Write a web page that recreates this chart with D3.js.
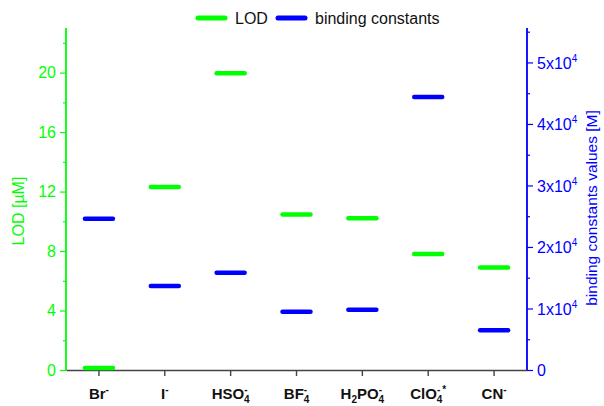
<!DOCTYPE html>
<html lang="en">
<head>
<meta charset="UTF-8">
<title>LOD and binding constants</title>
<script src="https://d3js.org/d3.v7.min.js"></script>
<style>
  body { margin: 0; background: #fff; }
  text { font-family: "Liberation Sans", Arial, sans-serif; }
</style>
</head>
<body>
<div id="chart"></div>
<script>
    // data
    var anions = ["Br", "I", "HSO4", "BF4", "H2PO4", "ClO4", "CN"];
    var lod = [0.13, 12.3, 19.95, 10.45, 10.2, 7.8, 6.9];            // µM
    var binding = [24600, 13650, 15800, 9450, 9800, 44400, 6450];     // M
    var lodTicks = [0, 4, 8, 12, 16, 20];
    var bindTicks = [0, 10000, 20000, 30000, 40000, 50000];

    // label pieces: [text, shift] shift: 0 normal, 1 super, -1 sub, 2 stacked super+sub
    var labelParts = [
        [["Br", 0], ["-", 1]],
        [["I", 0], ["-", 1]],
        [["HSO", 0], ["-4", 2]],
        [["BF", 0], ["-4", 2]],
        [["H", 0], ["2", -1], ["PO", 0], ["-4", 2]],
        [["ClO", 0], ["-4", 2], ["*", 1]],
        [["CN", 0], ["-", 1]]
    ];

    var W = 604, H = 406;
    var margin = {left: 66, right: 77, top: 28, bottom: 36};
    var green = "#00ff00", blue = "#0000ff";

    var svg = d3.select("#chart").append("svg")
        .attr("width", W).attr("height", H);

    var x = d3.scaleBand().domain(anions)
        .range([margin.left, W - margin.right]);
    var yL = d3.scaleLinear().domain([0, 23]).range([H - margin.bottom, margin.top]);
    var yR = d3.scaleLinear().domain([0, 55600]).range([H - margin.bottom, margin.top]);

    // left axis
    var left = svg.append("g").attr("transform", "translate(" + margin.left + ",0)");
    left.call(d3.axisLeft(yL).tickValues(d3.range(2, 23, 4)).tickSize(3).tickFormat(""));
    left.call(g => g.append("g").call(d3.axisLeft(yL).tickValues(lodTicks).tickSize(6).tickPadding(4)));
    left.selectAll("path").attr("stroke", green).attr("stroke-width", 1.4);
    left.selectAll("line").attr("stroke", green).attr("stroke-width", 1.2);
    left.selectAll("text").attr("fill", green).style("font-size", "16px")
        .style("font-family", "'Liberation Sans', Arial, sans-serif");
    left.selectAll(".domain").attr("d", "M0," + yL.range()[0] + "V" + yL.range()[1]);

    svg.append("text")
        .attr("transform", "translate(24,211) rotate(-90)")
        .attr("text-anchor", "middle")
        .attr("fill", green)
        .style("font-size", "16px")
        .text("LOD [\u00b5M]");

    // right axis
    var rx = W - margin.right;
    var right = svg.append("g").attr("transform", "translate(" + rx + ",0)");
    right.call(d3.axisRight(yR).tickValues(d3.range(5000, 56000, 10000)).tickSize(3).tickFormat(""));
    var rMajor = right.append("g").call(d3.axisRight(yR).tickValues(bindTicks).tickSize(6).tickPadding(4)
        .tickFormat(""));
    right.selectAll("path").attr("stroke", blue).attr("stroke-width", 1.4);
    right.selectAll("line").attr("stroke", blue).attr("stroke-width", 1.2);
    right.selectAll(".domain").attr("d", "M0," + yR.range()[0] + "V" + yR.range()[1]);

    rMajor.selectAll(".tick").each(function(d) {
        var t = d3.select(this).append("text")
            .attr("x", 10).attr("dy", "0.35em")
            .attr("fill", blue)
            .attr("text-anchor", "start")
            .style("font-size", "16px")
            .style("font-family", "'Liberation Sans', Arial, sans-serif");
        if (d === 0) { t.text("0"); return; }
        t.append("tspan").text((d / 10000) + "x10");
        t.append("tspan").attr("dy", -7).style("font-size", "10px").text("4");
    });

    svg.append("text")
        .attr("transform", "translate(597,208) rotate(-90)")
        .attr("text-anchor", "middle")
        .attr("fill", blue)
        .style("font-size", "15.5px")
        .text("binding constants values [M]");

    // bottom axis
    var bottom = svg.append("g").attr("transform", "translate(0," + (H - margin.bottom) + ")");
    bottom.call(d3.axisBottom(x).tickSize(6).tickSizeOuter(0).tickFormat(""));
    bottom.selectAll("path, line").attr("stroke", "#444").attr("stroke-width", 1.4);

    // category labels with sub/superscripts
    anions.forEach(function(a, i) {
        var t = svg.append("text")
            .attr("y", H - margin.bottom + 29)
            .attr("text-anchor", "middle")
            .attr("x", x(a) + x.bandwidth() / 2)
            .attr("fill", "#111")
            .style("font-size", "15px")
            .style("font-weight", "bold");
        var dyAcc = 0;
        labelParts[i].forEach(function(p) {
            var s = p[1];
            if (s === 0) {
                t.append("tspan").attr("dy", -dyAcc).text(p[0]);
                dyAcc = 0;
            } else if (s === 1) {
                t.append("tspan").attr("dy", -6 - dyAcc).style("font-size", "10px").text(p[0]);
                dyAcc = -6;
            } else if (s === -1) {
                t.append("tspan").attr("dy", 4 - dyAcc).style("font-size", "10px").text(p[0]);
                dyAcc = 4;
            } else {
                t.append("tspan").attr("dy", -6 - dyAcc).style("font-size", "10px").text(p[0][0]);
                t.append("tspan").attr("dx", -3.5).attr("dy", 10).style("font-size", "10px").text(p[0][1]);
                dyAcc = 4;
            }
        });
    });

    // markers
    var half = 14;
    var cx = d => x(d) + x.bandwidth() / 2;
    svg.append("g").selectAll("line")
        .data(anions.map((a, i) => ({a: a, v: lod[i]})))
        .join("line")
        .attr("x1", d => cx(d.a) - half).attr("x2", d => cx(d.a) + half)
        .attr("y1", d => yL(d.v)).attr("y2", d => yL(d.v))
        .attr("stroke", green).attr("stroke-width", 4.5).attr("stroke-linecap", "round");
    svg.append("g").selectAll("line")
        .data(anions.map((a, i) => ({a: a, v: binding[i]})))
        .join("line")
        .attr("x1", d => cx(d.a) - half).attr("x2", d => cx(d.a) + half)
        .attr("y1", d => yR(d.v)).attr("y2", d => yR(d.v))
        .attr("stroke", blue).attr("stroke-width", 4.5).attr("stroke-linecap", "round");

    // legend
    var legend = [["LOD", green, 198], ["binding constants", blue, 278]];
    var lg = svg.append("g");
    legend.forEach(function(l) {
        lg.append("line").attr("x1", l[2]).attr("x2", l[2] + 27).attr("y1", 18).attr("y2", 18)
            .attr("stroke", l[1]).attr("stroke-width", 5).attr("stroke-linecap", "round");
        lg.append("text").attr("x", l[2] + 37).attr("y", 24)
            .attr("fill", "#111").style("font-size", "16px").text(l[0]);
    });
</script>
</body>
</html>
